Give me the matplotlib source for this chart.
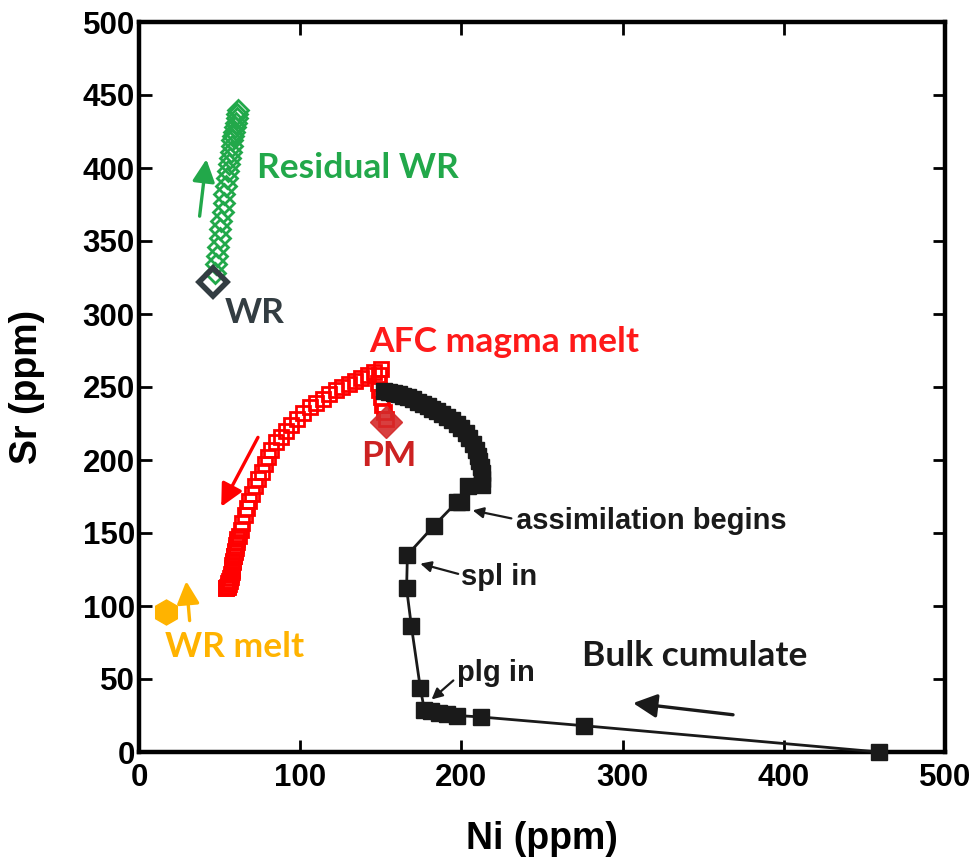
import matplotlib
matplotlib.use('Agg')
import matplotlib.pyplot as plt

# ---- data ----
bulk_ni = [152, 155, 158, 161, 164, 167, 170, 173, 176, 179, 182, 185, 188, 191, 194,
           197, 200, 203, 205, 207, 209, 210, 211, 212, 212.5, 213, 213,
           204, 200, 197, 183, 166.5, 166, 169, 174.5, 177, 181, 186, 191, 197, 212, 276, 459]
bulk_sr = [247, 246.5, 246, 245, 244, 243, 241.5, 240, 238.5, 237, 235, 233.5, 231.5, 229.5, 227.5,
           225, 222, 218.5, 215, 211, 207, 203, 199, 195, 191, 187, 183,
           182, 171, 171, 155, 135, 112, 86, 44, 29, 28, 27, 26, 25, 24, 18, 0]

afc_ni = [153, 152, 151, 150, 149, 148, 149, 150, 146, 142, 138, 134, 130, 126, 122, 118,
          114, 110, 106, 102, 98, 94, 91, 88, 85, 82, 80, 78, 76, 74, 72, 70, 68, 67, 66,
          64, 63, 62, 61, 60, 59.5, 59, 58.5, 58, 57.5, 57, 56.5, 56, 55.5, 55, 54.5, 54, 54,
          60.5, 60, 59.5, 59, 58.5, 58, 57.5, 57, 56.5, 56, 55.5]
afc_sr = [228, 233, 238, 243, 248, 253, 258, 262, 260, 258, 256, 254, 252, 250, 248, 245,
          242, 239, 236, 232, 228, 224, 220, 216, 212, 207, 202, 197, 192, 187, 182, 177, 172, 167, 162,
          157, 152, 148, 144, 140, 137, 134, 131, 128, 125, 122, 119.5, 117, 115.5, 114, 113, 112.5, 112,
          146, 142, 138, 134, 130, 126, 123, 120, 117, 115, 113]

res_ni = [47, 48, 48.5, 49, 50, 50.5, 51, 52, 52.5, 53, 54, 54.5, 55, 56, 56.5, 57, 57.5,
          58, 58.5, 59, 59.5, 60, 60.5, 61, 61.5]
res_sr = [328, 334, 340, 346, 352, 358, 364, 370, 376, 382, 388, 393, 398, 403, 407, 411, 415,
          419, 422, 425, 428, 431, 434, 437, 440]

wr_pt = (46, 322)
pm_pt = (153, 226)
wr_melt_pt = (17, 96)

x_ticks = [0, 100, 200, 300, 400, 500]
y_ticks = [0, 50, 100, 150, 200, 250, 300, 350, 400, 450, 500]

# ---- figure ----
fig = plt.figure(figsize=(9.76, 8.65), dpi=100)
ax = fig.add_axes([139 / 976, 1 - 752 / 865, (945 - 139) / 976, (752 - 22) / 865])

tick_font = 'Liberation Sans'
ann_font = 'Lato'

# residual WR (green open diamonds)
green = '#22a84a'
ax.plot(res_ni, res_sr, linestyle='none', marker='D', ms=10.5, mfc='none',
        mec=green, mew=2, zorder=3)
# WR
ax.plot([wr_pt[0]], [wr_pt[1]], linestyle='none', marker='D', ms=14, mfc='none',
        mec='#333d42', mew=4, zorder=5)

# AFC magma melt (red open squares)
ax.plot(afc_ni, afc_sr, linestyle='none', marker='s', ms=9.5, mfc='none',
        mec='#ff0000', mew=2, zorder=3)
# PM
ax.plot([pm_pt[0]], [pm_pt[1]], linestyle='none', marker='D', ms=16, mfc='#d42a2a',
        mec='#d42a2a', alpha=0.9, zorder=4)

# bulk cumulate (black squares + line)
ax.plot(bulk_ni, bulk_sr, color='#1a1a1a', lw=2, marker='s', ms=12,
        mfc='#1a1a1a', mec='#1a1a1a', zorder=4, clip_on=False)

# WR melt
ax.plot([wr_melt_pt[0]], [wr_melt_pt[1]], linestyle='none', marker='h', ms=18,
        mfc='#ffb300', mec='#ffb300', zorder=4)

# ---- arrows ----
def arrow(x0, y0, x1, y1, color, lw=2.4, ms=34):
    ax.annotate('', xy=(x1, y1), xytext=(x0, y0),
                arrowprops=dict(arrowstyle='-|>', color=color, lw=lw,
                                mutation_scale=ms, shrinkA=0, shrinkB=0),
                zorder=6)

arrow(37.6, 367, 41.8, 406, '#22a84a')
arrow(73.8, 215.5, 51, 168, '#ff0000')
arrow(31.4, 90, 29.3, 117, '#ffb300')
arrow(368.5, 25.5, 306.5, 33.5, '#1a1a1a', lw=2.4, ms=36)

def small_arrow(x0, y0, x1, y1):
    ax.annotate('', xy=(x1, y1), xytext=(x0, y0),
                arrowprops=dict(arrowstyle='-|>', color='#1a1a1a', lw=1.6,
                                mutation_scale=16, shrinkA=0, shrinkB=0),
                zorder=6)

small_arrow(231, 160, 207, 165.5)
small_arrow(198, 122, 174.5, 129)
small_arrow(195, 49, 181.5, 36)

# ---- text labels ----
fs_ann = 25.5
ax.text(73, 400, 'Residual WR', color=green, fontsize=fs_ann, fontweight='bold',
        family=ann_font, va='center', ha='left')
ax.text(53, 301, 'WR', color='#333d42', fontsize=fs_ann, fontweight='bold',
        family=ann_font, va='center', ha='left')
ax.text(143, 281, 'AFC magma melt', color='#ff1a1a', fontsize=fs_ann, fontweight='bold',
        family=ann_font, va='center', ha='left')
ax.text(155, 203, 'PM', color='#cc2222', fontsize=fs_ann, fontweight='bold',
        family=ann_font, va='center', ha='center')
ax.text(16, 72, 'WR melt', color='#ffb300', fontsize=fs_ann, fontweight='bold',
        family=ann_font, va='center', ha='left')
ax.text(275, 66, 'Bulk cumulate', color='#1a1a1a', fontsize=fs_ann, fontweight='bold',
        family=ann_font, va='center', ha='left')

fs_small = 21
ax.text(234, 158.5, 'assimilation begins', color='#1a1a1a', fontsize=fs_small,
        fontweight='bold', family=tick_font, va='center', ha='left')
ax.text(199.5, 120, 'spl in', color='#1a1a1a', fontsize=fs_small,
        fontweight='bold', family=tick_font, va='center', ha='left')
ax.text(197, 54, 'plg in', color='#1a1a1a', fontsize=fs_small,
        fontweight='bold', family=tick_font, va='center', ha='left')

# ---- axes ----
ax.set_xlim(0, 500)
ax.set_ylim(0, 500)
ax.set_xticks(x_ticks)
ax.set_yticks(y_ticks)
ax.set_xticklabels([str(v) for v in x_ticks])
ax.set_yticklabels([str(v) for v in y_ticks])
ax.tick_params(direction='in', length=9, width=2, top=True, right=True,
               labelsize=22.5)
ax.tick_params(axis='x', pad=8)
ax.tick_params(axis='y', pad=3)
for lab in ax.get_xticklabels() + ax.get_yticklabels():
    lab.set_fontweight('bold')
    lab.set_family(tick_font)
for sp in ax.spines.values():
    sp.set_linewidth(3.2)

ax.set_xlabel('Ni (ppm)', fontsize=27, fontweight='bold', family=tick_font, labelpad=20)
ax.set_ylabel('Sr (ppm)', fontsize=27, fontweight='bold', family=tick_font, labelpad=27)

fig.savefig('out.png', dpi=100)
